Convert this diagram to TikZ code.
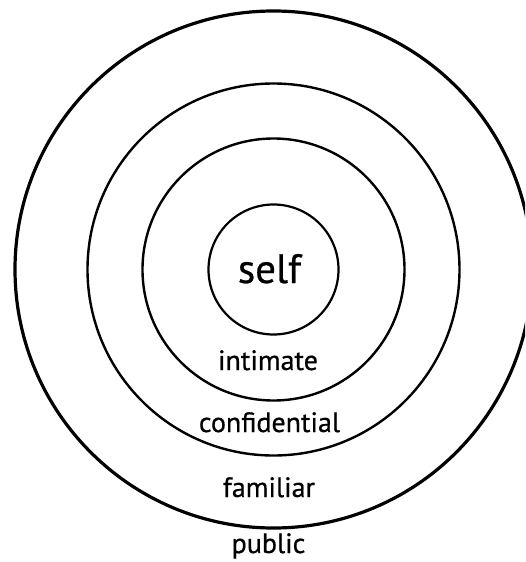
\documentclass[tikz,border=0pt]{standalone}
\usepackage{fontspec}
\setmainfont[FakeBold=0.6]{PT Sans}
\usetikzlibrary{positioning}

\tikzset{
    ring/.style={line width=2.4pt},
    ringlabel/.style={anchor=base,inner sep=0pt,font=\fontsize{28}{33}\selectfont}
}

\begin{document}
\begin{tikzpicture}[x=1pt,y=-1pt]
    \useasboundingbox (0,0) rectangle (525,562);
    \clip (0,0) rectangle (525,562);
    \coordinate (c) at (273.5,269.5);
    % the four circles, inside out
    \foreach \r/\w in {65/2.2,131/2.4,186/2.4,258.5/3.2}
    {
        \draw[ring,line width=\w pt] (c) circle[radius=\r];
    }
    \node[anchor=base,inner sep=0pt,font=\fontsize{41}{49}\selectfont] (self) at (269.5,283) {self};
    \node[ringlabel] (intimate) at (268,370) {intimate};
    \node[ringlabel] (confidential) at (269.5,432) {confidential};
    \node[ringlabel] (familiar) at (269,497) {familiar};
    \node[ringlabel] (public) at (268.5,553) {public};
\end{tikzpicture}
\end{document}
